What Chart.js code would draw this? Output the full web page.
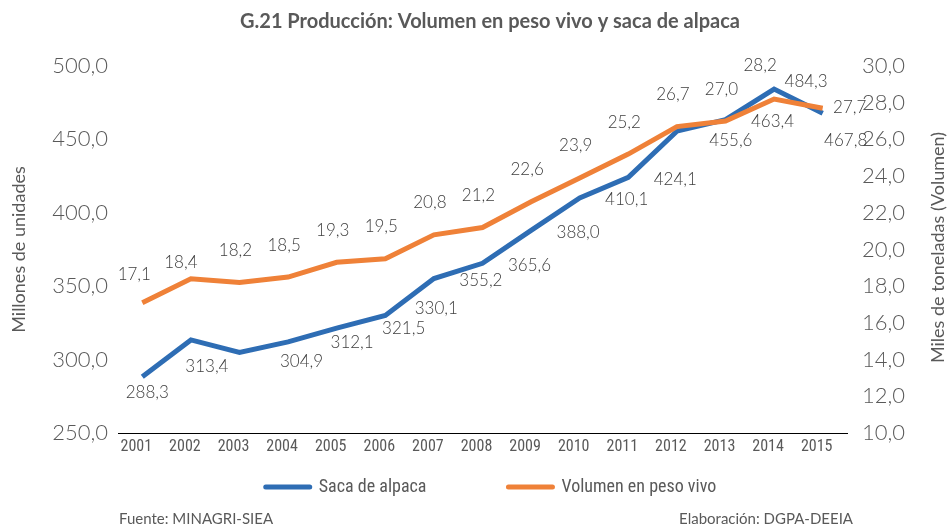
<!DOCTYPE html>
<html><head><meta charset="utf-8">
<script src="https://cdn.jsdelivr.net/npm/chart.js@4.4.1/dist/chart.umd.min.js"></script>
<style>html,body{margin:0;padding:0;background:#fff;}canvas{display:block}</style>
</head><body>
<canvas id="c" width="952" height="529" style="width:952px;height:529px"></canvas>
<script>
// ---- data ----
const years = ['2001','2002','2003','2004','2005','2006','2007','2008','2009','2010','2011','2012','2013','2014','2015'];
const sacaAlpaca = [288.3,313.4,304.9,312.1,321.5,330.1,355.2,365.6,388.0,410.1,424.1,455.6,463.4,484.3,467.8];
const volumenPesoVivo = [17.1,18.4,18.2,18.5,19.3,19.5,20.8,21.2,22.6,23.9,25.2,26.7,27.0,28.2,27.7];
const leftAxisTicks = [250,300,350,400,450,500];
const rightAxisTicks = [10,12,14,16,18,20,22,24,26,28,30];
const seriesNames = ['Saca de alpaca','Volumen en peso vivo'];
const titleText = 'G.21 Producción: Volumen en peso vivo y saca de alpaca';
const leftTitle = 'Millones de unidades';
const rightTitle = 'Miles de toneladas (Volumen)';
const sourceText = 'Fuente: MINAGRI-SIEA';
const authorText = 'Elaboración: DGPA-DEEIA';

// ---- styles ----
const BLUE = '#2E6DB4', ORANGE = '#EF8138', TXT = '#595959', LBL = '#404040';
const NUM_FONT = "'Lato', 'Open Sans', sans-serif";
const NARROW = "'Liberation Sans Narrow', 'Roboto Condensed', 'Lato', sans-serif";
// label placement relative to each point (dx, dy)
const labelPlacement = [
  {dx: 47, dy: 2, special: {0:[5,16],1:[16,27],2:[62,9],3:[64,1],4:[67,0],5:[51,-7],11:[54,9],13:[32,-8],14:[23,27]}},
  {dx: -4, dy: -32, special: {0:[-8,-28],1:[-10,-16],13:[-14,-34],14:[27,-1]}}
];
const fmt = v => v.toFixed(1).replace('.', ',');

const labelsPlugin = {
  id: 'pointLabels',
  afterDatasetsDraw(chart) {
    const ctx = chart.ctx;
    ctx.save();
    ctx.font = "300 17px " + NUM_FONT;
    ctx.fillStyle = LBL;
    ctx.textAlign = 'center';
    ctx.textBaseline = 'middle';
    chart.data.datasets.forEach((ds, i) => {
      const meta = chart.getDatasetMeta(i);
      const pl = labelPlacement[i];
      meta.data.forEach((pt, j) => {
        const o = pl.special[j] || [pl.dx, pl.dy];
        ctx.fillText(fmt(ds.data[j]), pt.x + o[0], pt.y + o[1]);
      });
    });
    ctx.restore();
  }
};

const decorPlugin = {
  id: 'decor',
  afterDraw(chart) {
    const ctx = chart.ctx;
    const ca = chart.chartArea;
    ctx.save();
    // right axis title (reads bottom-to-top)
    const ry = chart.scales.y1;
    ctx.font = "18px " + NUM_FONT;
    ctx.fillStyle = TXT;
    ctx.textAlign = 'center';
    ctx.textBaseline = 'middle';
    ctx.translate(ry.right - 14, (ca.top + ca.bottom) / 2 - 2);
    ctx.rotate(-Math.PI / 2);
    ctx.fillText(rightTitle, 0, 0);
    ctx.restore();

    // legend
    ctx.save();
    ctx.font = "18px " + NARROW;
    ctx.textBaseline = 'middle';
    ctx.textAlign = 'left';
    const lineW = 48, gapT = 7, gapItem = 80, ly = 487;
    const items = chart.data.datasets.map(d => ({text: d.label, color: d.borderColor, w: ctx.measureText(d.label).width}));
    const total = items.reduce((s, it) => s + lineW + gapT + it.w, 0) + gapItem * (items.length - 1);
    let x = 490 - total / 2;
    items.forEach(it => {
      ctx.strokeStyle = it.color;
      ctx.lineWidth = 5;
      ctx.lineCap = 'round';
      ctx.beginPath();
      ctx.moveTo(x + 2, ly);
      ctx.lineTo(x + lineW - 2, ly);
      ctx.stroke();
      ctx.fillStyle = TXT;
      ctx.fillText(it.text, x + lineW + gapT, ly);
      x += lineW + gapT + it.w + gapItem;
    });
    // footer
    ctx.font = "15px " + NUM_FONT;
    ctx.fillStyle = TXT;
    ctx.textAlign = 'left';
    ctx.fillText(sourceText, 119, 519);
    ctx.textAlign = 'right';
    ctx.fillText(authorText, 853, 519);
    ctx.restore();
  }
};

new Chart(document.getElementById('c'), {
  type: 'line',
  data: {
    labels: years,
    datasets: [
      {label: seriesNames[0], data: sacaAlpaca, yAxisID: 'y', borderColor: BLUE, backgroundColor: BLUE, borderWidth: 5, pointRadius: 0, tension: 0, order: 1},
      {label: seriesNames[1], data: volumenPesoVivo, yAxisID: 'y1', borderColor: ORANGE, backgroundColor: ORANGE, borderWidth: 5, pointRadius: 0, tension: 0, order: 0}
    ]
  },
  options: {
    responsive: false,
    animation: false,
    devicePixelRatio: 1,
    layout: {padding: {left: 28, right: 0, top: 0, bottom: 60}},
    plugins: {
      legend: {display: false},
      tooltip: {enabled: false},
      title: {display: true, text: titleText, color: TXT, font: {family: NUM_FONT, size: 20, weight: 'bold'}, padding: {top: 10, bottom: 32}}
    },
    scales: {
      x: {
        offset: true,
        grid: {display: false, drawTicks: false},
        border: {display: true, color: '#000', width: 1},
        ticks: {color: TXT, font: {family: NARROW, size: 16}, padding: 4, labelOffset: -6, maxRotation: 0, autoSkip: false},
        afterFit(s) { s.height = 36; }
      },
      y: {
        position: 'left',
        min: leftAxisTicks[0], max: leftAxisTicks[leftAxisTicks.length - 1],
        afterBuildTicks(s) { s.ticks = leftAxisTicks.map(v => ({value: v})); },
        grid: {display: false, drawTicks: false},
        border: {display: false},
        ticks: {color: TXT, font: {family: NUM_FONT, size: 22, weight: '300'}, padding: 10, callback: v => fmt(v)},
        title: {display: true, text: leftTitle, color: TXT, font: {family: NUM_FONT, size: 18}, padding: {top: -20, bottom: 0}},
        afterFit(s) { s.width = 90; }
      },
      y1: {
        position: 'right',
        min: rightAxisTicks[0], max: rightAxisTicks[rightAxisTicks.length - 1],
        afterBuildTicks(s) { s.ticks = rightAxisTicks.map(v => ({value: v})); },
        grid: {display: false, drawTicks: false},
        border: {display: false},
        ticks: {color: TXT, font: {family: NUM_FONT, size: 22, weight: '300'}, padding: 15, callback: v => fmt(v)},
        afterFit(s) { s.width = 105; }
      }
    }
  },
  plugins: [labelsPlugin, decorPlugin]
});
</script>
</body></html>
